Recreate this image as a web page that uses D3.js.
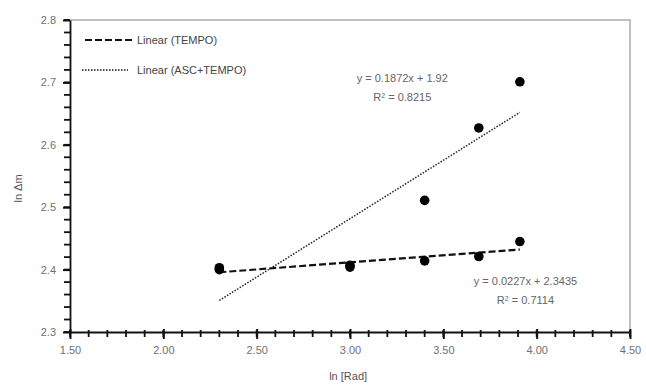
<!DOCTYPE html>
<html>
<head>
<meta charset="utf-8">
<script src="https://cdn.jsdelivr.net/npm/d3@7"></script>
<style>
  body { margin: 0; background: #fff; }
  text { font-family: "Liberation Sans", Arial, sans-serif; }
</style>
</head>
<body>
<div id="chart"></div>
<script>
// data
var lnRad = [2.30, 3.00, 3.40, 3.69, 3.91];
var tempo = [2.403, 2.407, 2.414, 2.421, 2.445];
var ascTempo = [2.400, 2.404, 2.511, 2.627, 2.701];
var tempoFit = [0.0227, 2.3435], tempoR2 = 0.7114;
var ascFit = [0.1872, 1.92], ascR2 = 0.8215;
var xTicks = [1.5, 2.0, 2.5, 3.0, 3.5, 4.0, 4.5];
var yTicks = [2.3, 2.4, 2.5, 2.6, 2.7, 2.8];

var W = 646, H = 385;
var margin = {top: 20, right: 16, bottom: 53, left: 70},
  width = W - margin.left - margin.right,
  height = H - margin.top - margin.bottom;

var svg = d3.select("#chart").append("svg")
  .attr("width", W).attr("height", H);
var g = svg.append("g")
  .attr("transform", "translate(" + margin.left + "," + margin.top + ")");

var x = d3.scaleLinear().domain([1.5, 4.5]).range([0, width]);
var y = d3.scaleLinear().domain([2.3, 2.8]).range([height, 0]);

// gray frame on top / right
g.append("path")
  .attr("d", "M0,0H" + width + "V" + height)
  .attr("fill", "none").attr("stroke", "#c0c0c0").attr("stroke-width", 2);

// minor ticks, drawn as plain lines from the scales
var xMinor = d3.range(15, 46).map(function(d) { return d / 10; });
var yMinor = d3.range(115, 141).map(function(d) { return d / 50; });
g.append("g").selectAll("line").data(xMinor).enter().append("line")
  .attr("x1", function(d) { return x(d); }).attr("x2", function(d) { return x(d); })
  .attr("y1", height - 2).attr("y2", height + 5)
  .attr("stroke", "#111").attr("stroke-width", 1.8);
g.append("g").selectAll("line").data(yMinor).enter().append("line")
  .attr("y1", function(d) { return y(d); }).attr("y2", function(d) { return y(d); })
  .attr("x1", -6).attr("x2", 0)
  .attr("stroke", "#111").attr("stroke-width", 1.8);

var xAxis = g.append("g").attr("transform", "translate(0," + height + ")")
  .call(d3.axisBottom(x).tickValues(xTicks).tickSize(7).tickSizeOuter(0).tickPadding(7)
    .tickFormat(d3.format(".2f")));
var yAxis = g.append("g")
  .call(d3.axisLeft(y).tickValues(yTicks).tickSize(7).tickSizeOuter(0).tickPadding(7)
    .tickFormat(d3.format(".1f")));
[xAxis, yAxis].forEach(function(a) {
  a.select(".domain").attr("stroke", "#111").attr("stroke-width", 1.8);
  a.selectAll(".tick line").attr("stroke", "#111").attr("stroke-width", 2);
  a.selectAll("text").attr("fill", "#707070").style("font-size", "11px");
});
xAxis.selectAll(".tick line").attr("y1", -3);

// trend lines
var xr = d3.extent(lnRad);
var line = d3.line().x(function(d) { return x(d[0]); }).y(function(d) { return y(d[1]); });
function fitPts(f) { return xr.map(function(v) { return [v, f[0] * v + f[1]]; }); }

g.append("path").attr("d", line(fitPts(ascFit)))
  .attr("fill", "none").attr("stroke", "#222").attr("stroke-width", 1.5)
  .attr("stroke-dasharray", "1.5,1.5");
g.append("path").attr("d", line(fitPts(tempoFit)))
  .attr("fill", "none").attr("stroke", "#111").attr("stroke-width", 2.2)
  .attr("stroke-dasharray", "7,3");

// points
[tempo, ascTempo].forEach(function(s) {
  g.selectAll(null).data(s).enter().append("circle")
    .attr("cx", function(d, i) { return x(lnRad[i]); })
    .attr("cy", function(d) { return y(d); })
    .attr("r", 4.8).attr("fill", "#000");
});

// equations
function eq(fit, r2, cx, cy) {
  var t = g.append("text").attr("text-anchor", "middle").attr("fill", "#666")
    .style("font-size", "11px");
  t.append("tspan").attr("x", cx).attr("y", cy)
    .text("y = " + fit[0] + "x + " + fit[1]);
  var t2 = t.append("tspan").attr("x", cx).attr("y", cy + 19).text("R");
  t2.append("tspan").attr("baseline-shift", "super").style("font-size", "7px").text("2");
  t.append("tspan").text(" = " + r2);
}
eq(ascFit, ascR2, x(3.28), y(2.71) + 6);
eq(tempoFit, tempoR2, x(3.94), y(2.384) + 5);

// legend
var leg = [["Linear (TEMPO)", "7,3", 2.2, 15, 48], ["Linear (ASC+TEMPO)", "1.5,1.5", 1.5, 12, 46]];
leg.forEach(function(l, i) {
  var ly = 20 + i * 30;
  g.append("line").attr("x1", l[3]).attr("x2", l[3] + l[4]).attr("y1", ly).attr("y2", ly)
    .attr("stroke", "#111").attr("stroke-width", l[2]).attr("stroke-dasharray", l[1]);
  g.append("text").attr("x", 67).attr("y", ly + 4).attr("fill", "#444")
    .style("font-size", "11px").text(l[0]);
});

// axis titles
svg.append("text").attr("x", margin.left + x(2.99)).attr("y", 380)
  .attr("text-anchor", "middle").attr("fill", "#555").style("font-size", "11px").text("ln [Rad]");
svg.append("text").attr("transform", "translate(22," + (margin.top + y(2.53)) + ") rotate(-90)")
  .attr("text-anchor", "middle").attr("fill", "#555").style("font-size", "11px").text("ln Δm");
</script>
</body>
</html>
